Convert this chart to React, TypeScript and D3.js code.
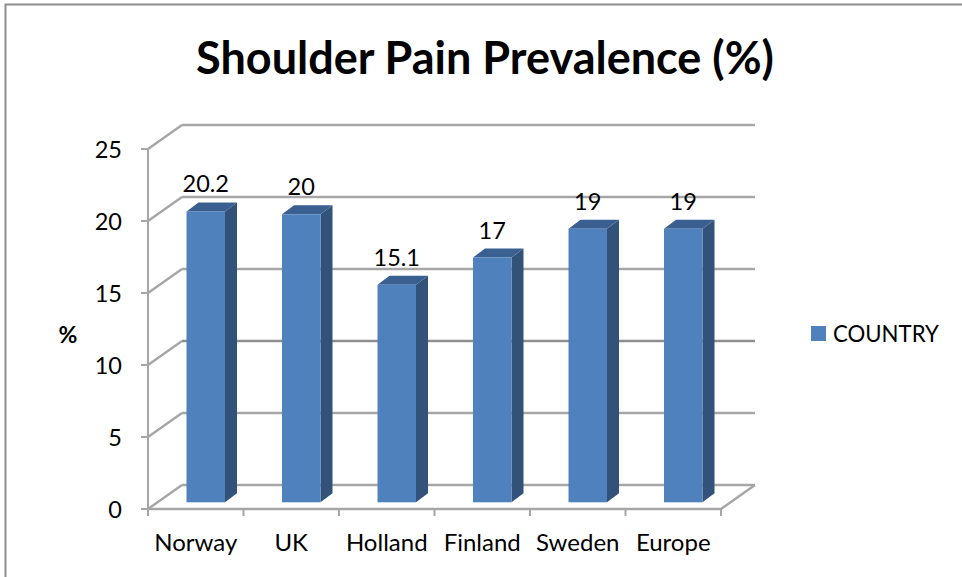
import * as d3 from "d3";

const countries = ["Norway", "UK", "Holland", "Finland", "Sweden", "Europe"];
const prevalence = [20.2, 20, 15.1, 17, 19, 19];
const valueLabels = ["20.2", "20", "15.1", "17", "19", "19"];
const yTicks = [0, 5, 10, 15, 20, 25];

const W = 962, H = 577;
const X0 = 148, X1 = 721, Y0 = 509, Y25 = 149;
// 3d projection: full depth of the floor and where the bars sit inside it
const DX = 34, DY = -24;
const BAR_W = 38.5, BAR_DX = 12, BAR_DY = -9, BAR_LIFT = -6.7, BAR_OFF = -10;

const FONT = "Lato, Carlito, sans-serif";
const GRID = "#a6a6a6";

const x = d3.scaleBand<string>().domain(countries).range([X0, X1]);
const y = d3.scaleLinear().domain([0, 25]).range([Y0, Y25]);
const path = d3.line();

export default function App() {
  return (
    <svg width={W} height={H} style={{ position: "absolute", left: 0, top: 0, background: "#fff" }} fontFamily={FONT}>
      <path d={`M5.5,${H} V4.5 H${W}`} fill="none" stroke="#8c8c8c" strokeWidth={2} />
      <text x={485} y={73.5} textAnchor="middle" fontSize={45} fontWeight={700} fill="#000">
        Shoulder Pain Prevalence (%)
      </text>

      {/* left wall diagonals + back wall grid */}
      {yTicks.map(t => (
        <g key={t}>
          <line x1={X0} y1={y(t)} x2={X0 + DX} y2={y(t) + DY} stroke={GRID} strokeWidth={2.4} />
          <line x1={X0 + DX} x2={X1 + DX} y1={y(t) + DY} y2={y(t) + DY}
            stroke={t === 10 ? "#8e8e8e" : GRID} strokeWidth={2.4} />
          <line x1={X0 - 7} x2={X0} y1={y(t)} y2={y(t)} stroke={GRID} strokeWidth={2} />
          <text x={122} y={y(t) + 9} textAnchor="end" fontSize={23.5} fill="#000">{t}</text>
        </g>
      ))}

      {/* axes and floor */}
      <line x1={X0} x2={X0} y1={Y25} y2={Y0 + 7} stroke={GRID} strokeWidth={2} />
      <path d={path([[X0, Y0], [X1, Y0], [X1 + DX, Y0 + DY]]) ?? ""} fill="none" stroke={GRID} strokeWidth={2.4} />
      {[...countries.map(c => x(c) ?? 0), X1].map((tx, i) => (
        <line key={i} x1={tx} x2={tx} y1={Y0} y2={Y0 + 7} stroke={GRID} strokeWidth={2} />
      ))}

      {/* bars */}
      {countries.map((c, i) => {
        const l = (x(c) ?? 0) + x.bandwidth() / 2 - BAR_W / 2 - BAR_OFF;
        const r = l + BAR_W;
        const top = y(prevalence[i]) + BAR_LIFT;
        const bot = y(0) + BAR_LIFT;
        return (
          <g key={c}>
            <path d={path([[r, top], [r + BAR_DX, top + BAR_DY], [r + BAR_DX, bot + BAR_DY], [r, bot]]) + "Z"} fill="#32527a" />
            <path d={path([[l, top], [l + BAR_DX, top + BAR_DY], [r + BAR_DX, top + BAR_DY], [r, top]]) + "Z"} fill="#3a6091" />
            <rect x={l} y={top} width={BAR_W} height={bot - top} fill="#4f81bd" />
            <text x={(l + r) / 2} y={top - 19} textAnchor="middle" fontSize={23.5} fill="#000">{valueLabels[i]}</text>
            <text x={(x(c) ?? 0) + x.bandwidth() / 2} y={551} textAnchor="middle" fontSize={24} fill="#000">{c}</text>
          </g>
        );
      })}

      <text x={68} y={343} textAnchor="middle" fontSize={23} fontWeight={700} fill="#000">%</text>

      <rect x={811} y={326} width={15} height={15} fill="#4f81bd" />
      <text x={833} y={342} fontSize={22.2} fill="#000">COUNTRY</text>
    </svg>
  );
}
